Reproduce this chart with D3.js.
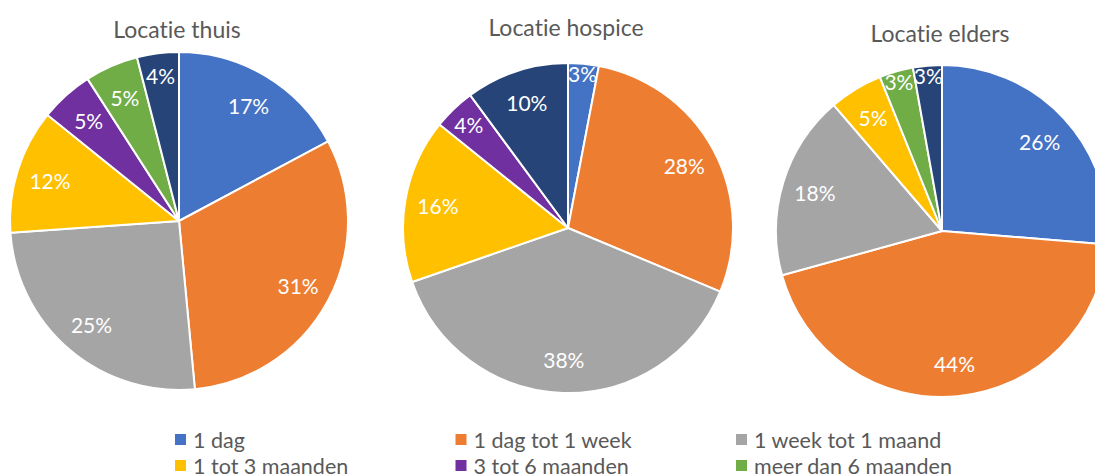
<!DOCTYPE html>
<html>
<head>
<meta charset="utf-8">
<script src="https://cdn.jsdelivr.net/npm/d3@7"></script>
<style>
  html, body { margin: 0; padding: 0; background: #fff; overflow: hidden; }
  svg { display: block; font-family: Lato, "Open Sans", sans-serif; font-variant-ligatures: none; }
</style>
</head>
<body>
<div id="chart"></div>
<script>
// categories (7th one falls below the visible legend area)
const categories = ["1 dag", "1 dag tot 1 week", "1 week tot 1 maand",
  "1 tot 3 maanden", "3 tot 6 maanden", "meer dan 6 maanden", "onbekend"];
const colors = ["#4472C4", "#ED7D31", "#A5A5A5", "#FFC000", "#7030A0", "#70AD47", "#264478"];

const titles = ["Locatie thuis", "Locatie hospice", "Locatie elders"];

// share per category, in %
const thuis   = [17.2, 31.3, 25.4, 11.9, 5.1, 5.1, 4.0];
const hospice = [3.0, 28.3, 38.4, 16.1, 4.1, 0, 10.1];
const elders  = [26.3, 44.4, 18.0, 5.2, 0, 3.3, 2.8];

const width = 1095, height = 475;

const pies = [
  {title: titles[0], values: thuis,   cx: 179, cy: 221, r: 169, ty: 38},
  {title: titles[1], values: hospice, cx: 568, cy: 228, r: 165, ty: 36},
  {title: titles[2], values: elders,  cx: 942, cy: 231, r: 166, ty: 42}
];

const color = d3.scaleOrdinal().domain(categories).range(colors);

const svg = d3.select("#chart").append("svg")
  .attr("width", width)
  .attr("height", height)
  .attr("viewBox", [0, 0, width, height]);

const pie = d3.pie().sort(null).value(d => d.value);

pies.forEach(p => {
  const data = categories.map((c, i) => ({cat: c, value: p.values[i]}));
  const arcs = pie(data).filter(a => a.data.value > 0);
  const arc = d3.arc().innerRadius(0).outerRadius(p.r);

  const g = svg.append("g").attr("transform", `translate(${p.cx},${p.cy})`);

  g.selectAll("path")
    .data(arcs)
    .join("path")
      .attr("d", arc)
      .attr("fill", d => color(d.data.cat))
      .attr("stroke", "#fff")
      .attr("stroke-width", 2)
      .attr("stroke-linejoin", "round");

  // small slices get their label pushed toward the rim, like Excel's best fit
  g.selectAll("text.lbl")
    .data(arcs)
    .join("text")
      .attr("class", "lbl")
      .attr("transform", d => {
        const v = d.data.value;
        const k = v < 3.5 ? 0.94 : v < 4.5 ? 0.87 : 0.8;
        const a = (d.startAngle + d.endAngle) / 2;
        return `translate(${Math.sin(a) * p.r * k},${-Math.cos(a) * p.r * k})`;
      })
      .attr("text-anchor", "middle")
      .attr("dominant-baseline", "central")
      .attr("fill", "#fff")
      .attr("font-size", 21)
      .text(d => Math.round(d.data.value) + "%");

  svg.append("text")
    .attr("x", p.cx - 2)
    .attr("y", p.ty)
    .attr("text-anchor", "middle")
    .attr("fill", "#595959")
    .attr("font-size", 23)
    .text(p.title);
});

// legend: three columns, rows of 26px
const legX = d3.scalePoint().domain([0, 1, 2]).range([175, 736]);
const legend = svg.append("g")
  .selectAll("g")
  .data(categories)
  .join("g")
    .attr("transform", (d, i) => `translate(${legX(i % 3)},${440 + Math.floor(i / 3) * 26})`);

legend.append("rect")
  .attr("x", 0).attr("y", -6)
  .attr("width", 11).attr("height", 11)
  .attr("fill", d => color(d));

legend.append("text")
  .attr("x", 18)
  .attr("dominant-baseline", "central")
  .attr("fill", "#595959")
  .attr("font-size", 21.5)
  .text(d => d);
</script>
</body>
</html>
